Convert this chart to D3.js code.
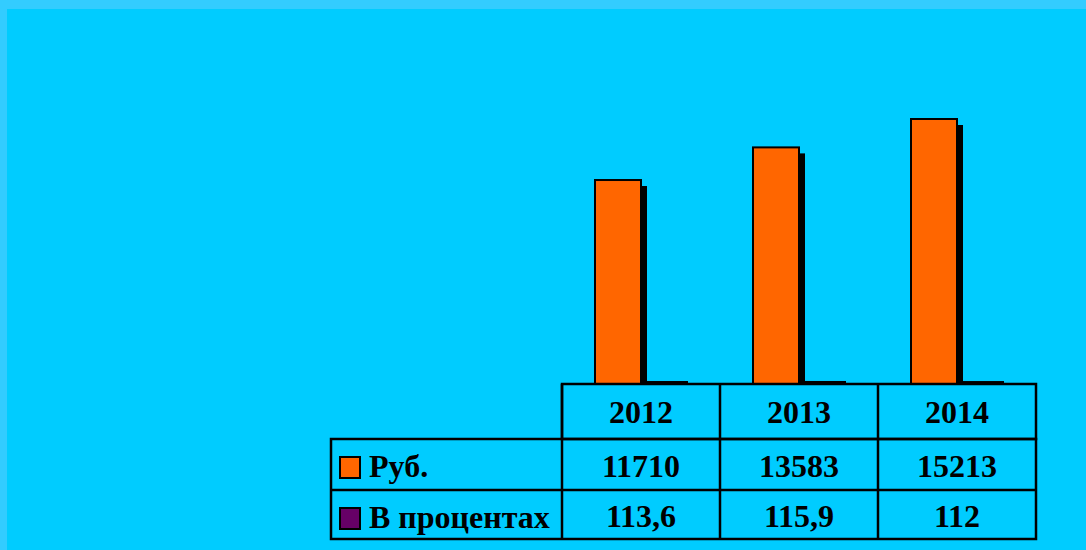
<!DOCTYPE html>
<html><head><meta charset="utf-8">
<script src="https://cdn.jsdelivr.net/npm/d3@7"></script>
<style>html,body{margin:0;padding:0;background:#33CCFF;}svg{display:block;}</style>
</head><body>
<svg id="c" width="1086" height="550"></svg>
<script>
const categories = ["2012", "2013", "2014"];
const seriesNames = ["Руб.", "В процентах"];
const rub = [11710, 13583, 15213];
const percent = [113.6, 115.9, 112];
const percentLabels = ["113,6", "115,9", "112"];
const colors = ["#FF6600", "#660066"];
const seriesValues = [rub, percent];

const svg = d3.select("#c");
svg.append("rect").attr("x",0).attr("y",0).attr("width",1086).attr("height",550).attr("fill","#33CCFF");
svg.append("rect").attr("x",7).attr("y",9).attr("width",1079).attr("height",541).attr("fill","#00CCFF");

const base = 384;
const x = d3.scaleBand().domain(categories).range([562, 1036]).padding(0);
const pOuter = (x.bandwidth()/46 - 2)/2;
const xs = d3.scaleBand().domain(seriesNames).range([0, x.bandwidth()]).paddingInner(0).paddingOuter(pOuter);
const y = d3.scaleLinear().domain([0, 15213]).range([base, 119]);

const bars = [];
seriesNames.forEach((s, si) => {
  categories.forEach((c, ci) => {
    bars.push({s, si, c, v: seriesValues[si][ci]});
  });
});

const g = svg.append("g");
// shadows
g.selectAll("rect.sh").data(bars).join("rect").attr("class","sh")
  .attr("x", d => x(d.c) + xs(d.s) + 6)
  .attr("y", d => Math.min(y(d.v) + 6, base))
  .attr("width", xs.bandwidth())
  .attr("height", d => Math.max(0, base - (y(d.v) + 6)))
  .attr("fill", "#000");
// bars
g.selectAll("rect.b").data(bars).join("rect").attr("class","b")
  .attr("x", d => x(d.c) + xs(d.s))
  .attr("y", d => y(d.v))
  .attr("width", xs.bandwidth())
  .attr("height", d => base - y(d.v))
  .attr("fill", d => colors[d.si])
  .attr("stroke", "#000").attr("stroke-width", 2);

// data table
const rowsY = [384, 439, 490, 539];
const leftX = 331;
const tbl = svg.append("g").attr("stroke","#000").attr("stroke-width",2.5).attr("fill","none");
tbl.append("rect").attr("x", 562).attr("y", rowsY[0]).attr("width", 1036-562).attr("height", rowsY[1]-rowsY[0]);
tbl.append("rect").attr("x", leftX).attr("y", rowsY[1]).attr("width", 1036-leftX).attr("height", rowsY[3]-rowsY[1]);
tbl.append("line").attr("x1", leftX).attr("x2", 1036).attr("y1", rowsY[2]).attr("y2", rowsY[2]);
categories.forEach(c => {
  tbl.append("line").attr("x1", x(c)).attr("x2", x(c)).attr("y1", rowsY[0]).attr("y2", rowsY[3]);
});

const font = "'Liberation Serif','Times New Roman',serif";
const txt = svg.append("g").attr("font-family", font).attr("font-weight","bold").attr("font-size", 32).attr("fill","#000");
txt.selectAll("text.h").data(categories).join("text").attr("class","h")
  .attr("x", d => x(d) + x.bandwidth()/2).attr("y", 423).attr("text-anchor","middle").text(d => d);
txt.selectAll("text.r1").data(rub).join("text").attr("class","r1")
  .attr("x", (d,i) => x(categories[i]) + x.bandwidth()/2).attr("y", 477).attr("text-anchor","middle").text(d => d);
txt.selectAll("text.r2").data(percentLabels).join("text").attr("class","r2")
  .attr("x", (d,i) => x(categories[i]) + x.bandwidth()/2).attr("y", 527).attr("text-anchor","middle").text(d => d);

const keyY = [457, 508];
seriesNames.forEach((s, i) => {
  svg.append("rect").attr("x", 340).attr("y", keyY[i]).attr("width", 20).attr("height", 21)
    .attr("fill", colors[i]).attr("stroke","#000").attr("stroke-width",2);
  txt.append("text").attr("x", 369).attr("y", keyY[i] + 20).text(s);
});
</script>
</body></html>
